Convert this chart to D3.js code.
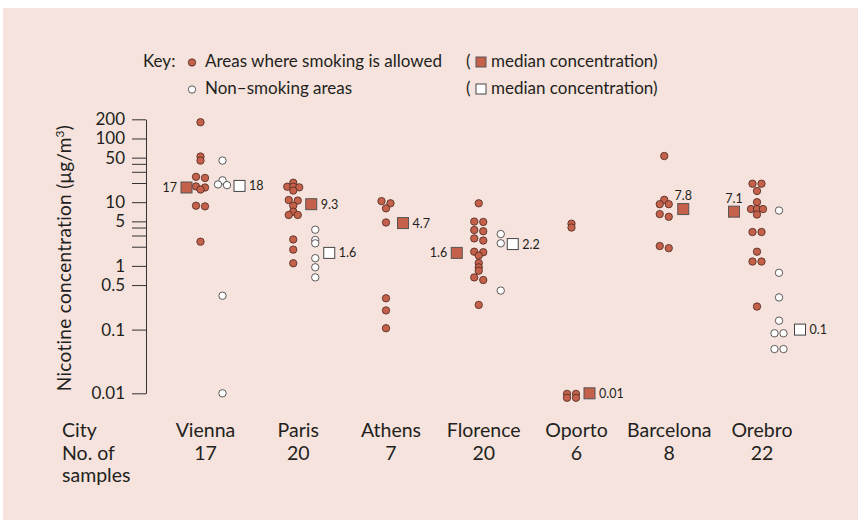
<!DOCTYPE html>
<html>
<head>
<meta charset="utf-8">
<style>
  body { margin: 0; background: #fff; }
  svg text { font-family: Lato, "DejaVu Sans", sans-serif; fill: #231f20; }
</style>
<title>Nicotine concentration by city</title>
</head>
<body>
<script src="https://cdn.jsdelivr.net/npm/d3@7"></script>
<script>
// data
const cities = ["Vienna", "Paris", "Athens", "Florence", "Oporto", "Barcelona", "Orebro"];
const samples = [17, 20, 7, 20, 6, 8, 22];

const smoking = [
  [180, 52, 45, 25, 24, 17.7, 17, 15.8, 8.8, 8.6, 2.4],
  [20.2, 17.5, 17.5, 17.1, 15.2, 10.8, 10.6, 8.8, 7.1, 6.3, 6.3, 2.6, 1.8, 1.1],
  [10.4, 9.6, 8.0, 4.8, 0.31, 0.2, 0.105],
  [9.6, 4.96, 4.9, 3.66, 3.5, 2.7, 2.5, 1.67, 1.64, 1.45, 1.11, 0.95, 0.84, 0.66, 0.6, 0.244],
  [4.6, 4.0, 0.0098, 0.0098, 0.0085, 0.0085],
  [53, 10.9, 9.3, 9.3, 6.5, 5.9, 2.05, 1.9],
  [19.5, 19.5, 15, 10, 7.8, 7.8, 7.8, 6.4, 3.4, 3.4, 1.67, 1.17, 1.17, 0.23]
];
const nonSmoking = [
  [45, 22, 19, 18.5, 0.34, 0.01],
  [3.7, 2.55, 2.26, 1.32, 0.95, 0.66],
  [],
  [3.16, 2.26, 0.41],
  [],
  [],
  [7.4, 0.78, 0.32, 0.138, 0.0875, 0.0875, 0.0495, 0.0495]
];
const smokingMedian = [17, 9.3, 4.7, 1.6, 0.01, 7.8, 7.1];
const nonSmokingMedian = [18, 1.6, null, 2.2, null, null, 0.1];

const yTicks = [200, 100, 50, 10, 5, 1, 0.5, 0.1, 0.01];
const yMinorTicks = [40, 30, 20, 4, 3, 2];

// where the median squares sit next to their column, and where their label goes
const redSquareDx = [-14, 18, 17, -22, 18, 19, -23];
const redLabelPos = ["left", "right", "right", "left", "right", "above", "above"];
const whiteSquareDx = [17, 14, 0, 12, 0, 0, 21];

const W = 866, H = 522;
const red = "#c5614b", redStroke = "#4a2820";
const nsOffset = 22;   // non-smoking column to the right of smoking column
const r = 3.7, sq = 11;

const svg = d3.select("body").append("svg")
  .attr("width", W).attr("height", H);

svg.append("rect")
  .attr("x", 3).attr("y", 8)
  .attr("width", 855).attr("height", 512)
  .attr("fill", "#f6e3dd");

const y = d3.scaleLog().domain([0.01, 200]).range([393.3, 119.3]);
const x = d3.scalePoint().domain(cities).range([200.5, 757]);

// y axis
const axisX = 146;
const yAxis = svg.append("g")
  .attr("transform", "translate(" + axisX + ",0)")
  .call(d3.axisLeft(y).tickValues(yTicks).tickSize(14).tickSizeOuter(0)
    .tickPadding(7).tickFormat(d => String(d)));
yAxis.selectAll("text").style("font-size", "17px").attr("fill", "#231f20");
yAxis.selectAll("line, path").attr("stroke", "#333").attr("stroke-width", 1);

const yMinor = svg.append("g")
  .attr("transform", "translate(" + axisX + ",0)")
  .call(d3.axisLeft(y).tickValues(yMinorTicks).tickSize(14).tickSizeOuter(0).tickFormat(""));
yMinor.select("path").remove();
yMinor.selectAll("line").attr("stroke", "#333");

svg.append("text")
  .attr("transform", "translate(71,258) rotate(-90)")
  .attr("text-anchor", "middle")
  .style("font-size", "19px")
  .style("letter-spacing", "0.3px")
  .html("Nicotine concentration (μg/m<tspan dy='-7' font-size='12'>3</tspan><tspan dy='7'>)</tspan>");

// points with nearly the same value sit side by side in a row, centred on the column
function rows(values, cx) {
  const sorted = values.slice().sort((a, b) => b - a);
  const out = [];
  let row = [];
  sorted.forEach(v => {
    if (row.length && y(v) - y(row[0]) >= 3) { out.push(row); row = []; }
    row.push(v);
  });
  if (row.length) out.push(row);
  const pts = [];
  out.forEach(rw => {
    const step = rw.length === 2 ? 9 : 6;
    rw.forEach((v, j) => pts.push({x: cx + (j - (rw.length - 1) / 2) * step, y: y(v)}));
  });
  return pts;
}

cities.forEach((c, i) => {
  const cx = x(c);
  const g = svg.append("g");

  g.selectAll("circle.s")
    .data(rows(smoking[i], cx))
    .enter().append("circle")
    .attr("cx", d => d.x).attr("cy", d => d.y).attr("r", r)
    .attr("fill", red).attr("stroke", redStroke).attr("stroke-width", 0.8);

  g.selectAll("circle.n")
    .data(rows(nonSmoking[i], cx + nsOffset))
    .enter().append("circle")
    .attr("cx", d => d.x).attr("cy", d => d.y).attr("r", r)
    .attr("fill", "#fff").attr("stroke", "#333").attr("stroke-width", 0.8);

  // smoking median
  const mx = cx + redSquareDx[i], my = y(smokingMedian[i]);
  g.append("rect")
    .attr("x", mx - sq / 2).attr("y", my - sq / 2)
    .attr("width", sq).attr("height", sq)
    .attr("fill", red).attr("stroke", "#555").attr("stroke-width", 1);
  const lab = g.append("text").style("font-size", "12.5px").text(smokingMedian[i]);
  if (redLabelPos[i] === "left") {
    lab.attr("x", mx - sq / 2 - 4).attr("y", my + 4.5).attr("text-anchor", "end");
  } else if (redLabelPos[i] === "right") {
    lab.attr("x", mx + sq / 2 + 4).attr("y", my + 4.5);
  } else {
    lab.attr("x", mx).attr("y", my - sq / 2 - 3.5).attr("text-anchor", "middle");
  }

  // non-smoking median
  if (nonSmokingMedian[i] != null) {
    const wx = cx + nsOffset + whiteSquareDx[i], wy = y(nonSmokingMedian[i]);
    g.append("rect")
      .attr("x", wx - sq / 2).attr("y", wy - sq / 2)
      .attr("width", sq).attr("height", sq)
      .attr("fill", "#fff").attr("stroke", "#444").attr("stroke-width", 1);
    g.append("text").style("font-size", "12.5px")
      .attr("x", wx + sq / 2 + 4).attr("y", wy + 4.5)
      .text(nonSmokingMedian[i]);
  }

  // city and sample count
  svg.append("text").attr("x", cx + 5).attr("y", 437)
    .attr("text-anchor", "middle").style("font-size", "19.5px").text(c);
  svg.append("text").attr("x", cx + 5).attr("y", 460)
    .attr("text-anchor", "middle").style("font-size", "19.5px").text(samples[i]);
});

svg.append("text").attr("x", 62).attr("y", 437).style("font-size", "19.5px").text("City");
svg.append("text").attr("x", 62).attr("y", 460).style("font-size", "19.5px").text("No. of");
svg.append("text").attr("x", 62).attr("y", 482).style("font-size", "19.5px").text("samples");

// key
const key = svg.append("g").style("font-size", "17px");
key.append("text").attr("x", 143).attr("y", 67).text("Key:");
key.append("circle").attr("cx", 192).attr("cy", 62.5).attr("r", r)
  .attr("fill", red).attr("stroke", redStroke).attr("stroke-width", 0.8);
key.append("circle").attr("cx", 192).attr("cy", 89.5).attr("r", r)
  .attr("fill", "#fff").attr("stroke", "#333").attr("stroke-width", 0.8);
key.append("text").attr("x", 205).attr("y", 67).text("Areas where smoking is allowed");
key.append("text").attr("x", 205).attr("y", 94).text("Non\u2013smoking areas");
key.append("text").attr("x", 466).attr("y", 67).text("(");
key.append("text").attr("x", 466).attr("y", 94).text("(");
key.append("rect").attr("x", 476).attr("y", 57).attr("width", 10).attr("height", 10)
  .attr("fill", red).attr("stroke", "#555");
key.append("rect").attr("x", 476).attr("y", 84).attr("width", 10).attr("height", 10)
  .attr("fill", "#fff").attr("stroke", "#444");
key.append("text").attr("x", 491).attr("y", 67).text("median concentration)");
key.append("text").attr("x", 491).attr("y", 94).text("median concentration)");
</script>
</body>
</html>
